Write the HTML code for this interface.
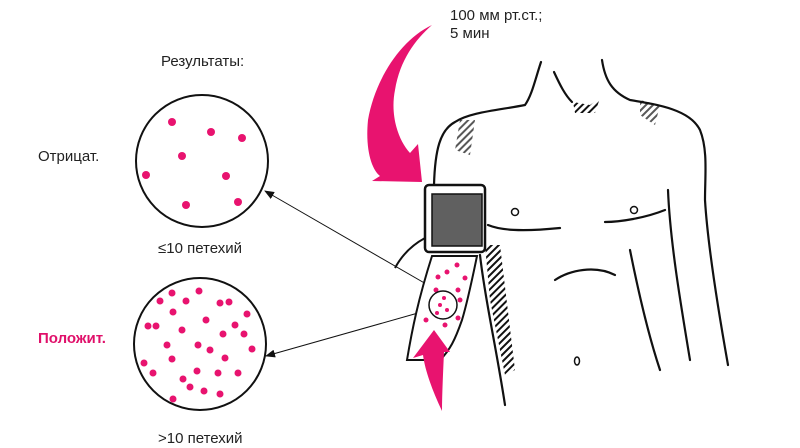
<!DOCTYPE html>
<html><head><meta charset="utf-8"><style>
html,body{margin:0;padding:0;background:#fff;width:800px;height:448px;overflow:hidden}
svg{display:block}
text{font-family:"Liberation Sans",sans-serif;font-size:15px;fill:#222}
</style></head><body>
<svg width="800" height="448" viewBox="0 0 800 448" xmlns="http://www.w3.org/2000/svg">
<defs>
<marker id="ah" markerWidth="10" markerHeight="8" refX="9" refY="4" orient="auto" markerUnits="userSpaceOnUse">
<path d="M0,0 L10,4 L0,8 Z" fill="#111"/></marker>
<pattern id="hatch" width="5" height="5" patternUnits="userSpaceOnUse" patternTransform="rotate(45)">
<rect width="2" height="5" fill="#111"/></pattern>
</defs>
<text x="161" y="66">Результаты:</text>
<text x="38" y="161">Отрицат.</text>
<text x="38" y="343" style="fill:#e0106a;font-weight:bold">Положит.</text>
<text x="158" y="253">≤10 петехий</text>
<text x="158" y="443">&gt;10 петехий</text>
<text x="450" y="20">100 мм рт.ст.;</text>
<text x="450" y="38">5 мин</text>

<circle cx="202" cy="161" r="66" fill="#fff" stroke="#111" stroke-width="2"/>
<circle cx="200" cy="344" r="66" fill="#fff" stroke="#111" stroke-width="2"/>
<g fill="#e8136f">
<circle cx="172" cy="122" r="4"/><circle cx="211" cy="132" r="4"/><circle cx="242" cy="138" r="4"/><circle cx="182" cy="156" r="4"/><circle cx="146" cy="175" r="4"/><circle cx="226" cy="176" r="4"/><circle cx="186" cy="205" r="4"/><circle cx="238" cy="202" r="4"/>
<circle cx="172" cy="293" r="3.5"/><circle cx="199" cy="291" r="3.5"/><circle cx="160" cy="301" r="3.5"/><circle cx="186" cy="301" r="3.5"/><circle cx="220" cy="303" r="3.5"/><circle cx="229" cy="302" r="3.5"/><circle cx="173" cy="312" r="3.5"/><circle cx="247" cy="314" r="3.5"/><circle cx="206" cy="320" r="3.5"/><circle cx="148" cy="326" r="3.5"/><circle cx="156" cy="326" r="3.5"/><circle cx="182" cy="330" r="3.5"/><circle cx="235" cy="325" r="3.5"/><circle cx="223" cy="334" r="3.5"/><circle cx="244" cy="334" r="3.5"/><circle cx="167" cy="345" r="3.5"/><circle cx="198" cy="345" r="3.5"/><circle cx="210" cy="350" r="3.5"/><circle cx="252" cy="349" r="3.5"/><circle cx="172" cy="359" r="3.5"/><circle cx="225" cy="358" r="3.5"/><circle cx="144" cy="363" r="3.5"/><circle cx="153" cy="373" r="3.5"/><circle cx="197" cy="371" r="3.5"/><circle cx="218" cy="373" r="3.5"/><circle cx="238" cy="373" r="3.5"/><circle cx="183" cy="379" r="3.5"/><circle cx="190" cy="387" r="3.5"/><circle cx="204" cy="391" r="3.5"/><circle cx="220" cy="394" r="3.5"/><circle cx="173" cy="399" r="3.5"/>
</g>
<line x1="440" y1="292" x2="265" y2="191" stroke="#111" stroke-width="1" marker-end="url(#ah)"/>
<line x1="418" y1="313" x2="266" y2="356" stroke="#111" stroke-width="1" marker-end="url(#ah)"/>

<!-- torso -->
<g fill="none" stroke="#111" stroke-width="2.2" stroke-linecap="round">
<path d="M541,62 C535,80 532,95 525,105 C500,110 470,112 455,122 C440,130 435,150 434,185"/>
<path d="M602,60 C605,80 612,92 630,100 C660,105 690,110 700,130 C708,150 705,175 705,200 C708,250 720,320 728,365"/>
<path d="M554,72 C560,85 565,95 572,102"/>
<path d="M668,190 C670,240 680,300 690,360"/>
<path d="M480,255 C485,300 495,340 505,405"/>
<path d="M488,225 C500,230 520,232 560,228"/>
<path d="M605,222 C620,222 645,218 665,210"/>
<path d="M555,280 C570,270 595,265 615,275"/>
<path d="M630,250 C640,300 650,340 660,370"/>
</g>
<g fill="none" stroke="#111" stroke-width="1.5">
<circle cx="515" cy="212" r="3.5"/><circle cx="634" cy="210" r="3.5"/>
<ellipse cx="577" cy="361" rx="2.5" ry="4"/>
</g>
<path d="M485,245 L500,245 L515,370 L505,375 L490,300 Z" fill="url(#hatch)"/>
<path d="M573,102 L590,105 L600,98 L595,113 L575,113 Z" fill="url(#hatch)"/>
<path d="M460,120 L475,120 L470,155 L455,150 Z" fill="url(#hatch)" opacity="0.7"/>
<path d="M640,100 L660,105 L655,125 L640,115 Z" fill="url(#hatch)" opacity="0.7"/>

<!-- cuff -->
<path d="M425,238 C412,245 402,255 395,268" fill="none" stroke="#111" stroke-width="2"/>
<rect x="425" y="185" width="60" height="67" rx="4" fill="#fff" stroke="#111" stroke-width="2.5"/>
<rect x="432" y="194" width="50" height="52" fill="#606060" stroke="#111" stroke-width="1.5"/>
<!-- forearm -->
<path d="M432,256 L477,256 C472,280 468,300 462,320 C455,340 450,350 440,360 L407,360 C412,330 418,300 432,256 Z" fill="#fff" stroke="#111" stroke-width="2"/>
<g fill="#e8136f">
<circle cx="457" cy="265" r="2.5"/><circle cx="447" cy="272" r="2.5"/><circle cx="465" cy="278" r="2.5"/><circle cx="438" cy="277" r="2.5"/><circle cx="458" cy="290" r="2.5"/><circle cx="436" cy="290" r="2.5"/><circle cx="460" cy="300" r="2.5"/><circle cx="432" cy="305" r="2.5"/><circle cx="426" cy="320" r="2.5"/><circle cx="458" cy="318" r="2.5"/><circle cx="445" cy="325" r="2.5"/>
</g>
<circle cx="443" cy="305" r="14" fill="#fff" stroke="#111" stroke-width="1.5"/>
<g fill="#e8136f"><circle cx="444" cy="298" r="2"/><circle cx="440" cy="305" r="2"/><circle cx="447" cy="310" r="2"/><circle cx="437" cy="313" r="2"/></g>

<!-- red arrows -->
<path d="M432,25 C400,40 375,80 368,120 C365,150 372,170 380,176 L372,181 L422,182 L418,144 L410,153 C398,140 390,115 395,90 C400,60 415,40 432,25 Z" fill="#e8136f"/>
<path d="M442,411 C432,390 425,370 423,355 L413,358 L434,330 L450,352 L444,352 C443,375 442,395 442,411 Z" fill="#e8136f"/>
</svg>
</body></html>
